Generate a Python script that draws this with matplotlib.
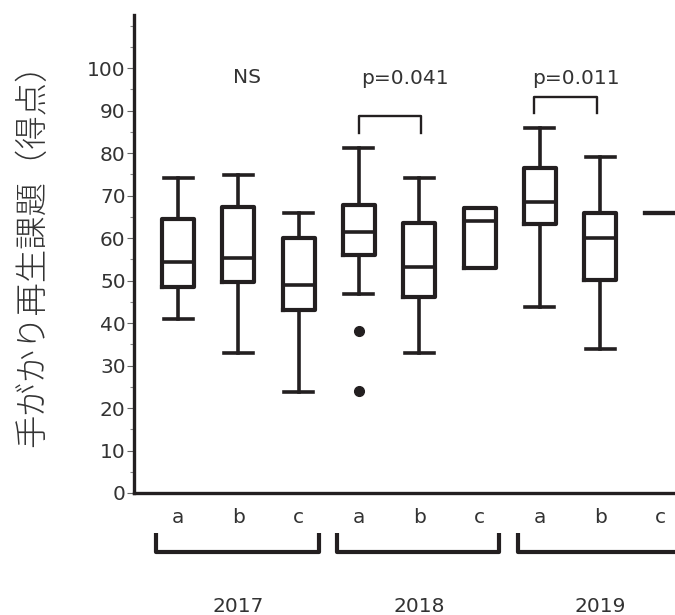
import matplotlib.pyplot as plt
from matplotlib.ticker import MultipleLocator

plt.rcParams['font.family'] = ['DejaVu Sans']

# data (score, 0-100)
years = ['2017', '2018', '2019']
conditions = ['a', 'b', 'c']
whisker_low = [40.9, 32.9, 23.7, 46.8, 32.9, 52.9, 43.8, 33.9, 66.0]
q1 = [48.4, 49.7, 43.1, 56.0, 46.2, 52.9, 63.3, 50.1, 66.0]
median = [54.3, 55.2, 48.9, 61.5, 53.3, 64.0, 68.4, 60.1, 66.0]
q3 = [64.6, 67.2, 59.9, 67.8, 63.6, 67.0, 76.6, 66.0, 66.0]
whisker_high = [74.2, 74.8, 66.0, 81.1, 74.2, 67.0, 86.0, 79.0, 66.0]
outliers = [[], [], [], [38.1, 24.0], [], [], [], [], []]
sig_labels = ['NS', 'p=0.041', 'p=0.011']

dark = '#231f20'
grey = '#333333'

positions = list(range(1, len(median) + 1))
stats = []
for i in range(len(median)):
    stats.append({'whislo': whisker_low[i], 'q1': q1[i], 'med': median[i],
                  'q3': q3[i], 'whishi': whisker_high[i], 'fliers': outliers[i]})

fig = plt.figure(figsize=(6.75, 6.15), dpi=100)
ax = fig.add_axes([134 / 675, 1 - 493 / 615, 1 - 134 / 675, (493 - 15) / 615])

ax.bxp(stats, positions=positions, widths=0.53, capwidths=0.48,
       boxprops=dict(color=dark, linewidth=3.0),
       whiskerprops=dict(color=dark, linewidth=2.6),
       capprops=dict(color=dark, linewidth=2.6),
       medianprops=dict(color=dark, linewidth=2.6),
       flierprops=dict(marker='o', markerfacecolor=dark, markeredgecolor=dark,
                       markersize=7))

ax.set_xlim(0.27, 9.24)
ax.set_ylim(0, 112.5)

# axes styling
for s in ['top', 'right']:
    ax.spines[s].set_visible(False)
ax.spines['left'].set_linewidth(2.4)
ax.spines['bottom'].set_linewidth(2.4)
ax.spines['left'].set_color(dark)
ax.spines['bottom'].set_color(dark)

ax.set_yticks(range(0, 101, 10))
ax.yaxis.set_minor_locator(MultipleLocator(5))
ax.tick_params(axis='y', which='major', length=5, width=0.8, color='#666666',
               labelsize=14.5, labelcolor=grey, pad=1)
ax.tick_params(axis='y', which='minor', length=3, width=0.8, color='#888888')
ax.set_xticks([])

# condition labels and year brackets under the axis
for i, p in enumerate(positions):
    ax.text(p, -7.1, conditions[i % 3], ha='center', va='baseline',
            fontsize=14.5, color=grey, clip_on=False)

for g, year in enumerate(years):
    x0 = g * 3 + 1 - 0.36
    x1 = g * 3 + 3 + 0.33
    ax.plot([x0, x0, x1, x1], [-9.4, -13.9, -13.9, -9.4], color=dark,
            linewidth=3.0, clip_on=False, solid_capstyle='butt')
    ax.text(g * 3 + 2, -28.0, year, ha='center', va='baseline',
            fontsize=14.5, color=grey, clip_on=False)

# significance annotations
ax.text(2.14, 96.6, sig_labels[0], ha='center', va='baseline', fontsize=14.5, color=grey)
ax.text(4.76, 96.3, sig_labels[1], ha='center', va='baseline', fontsize=14.5, color=grey)
ax.text(7.59, 96.3, sig_labels[2], ha='center', va='baseline', fontsize=14.5, color=grey)
ax.plot([4.0, 4.0, 5.03, 5.03], [84.8, 88.7, 88.7, 84.8], color=dark, linewidth=1.7)
ax.plot([6.9, 6.9, 7.95, 7.95], [89.5, 93.3, 93.3, 89.5], color=dark, linewidth=1.7)

fig.text(33 / 675, 1 - 247 / 615, '手がかり再生課題（得点）', rotation=90,
         ha='center', va='center', fontsize=24, color=grey, fontweight='light',
         family=['Noto Sans CJK JP', 'DejaVu Sans'])

fig.savefig('out.png', dpi=100)
